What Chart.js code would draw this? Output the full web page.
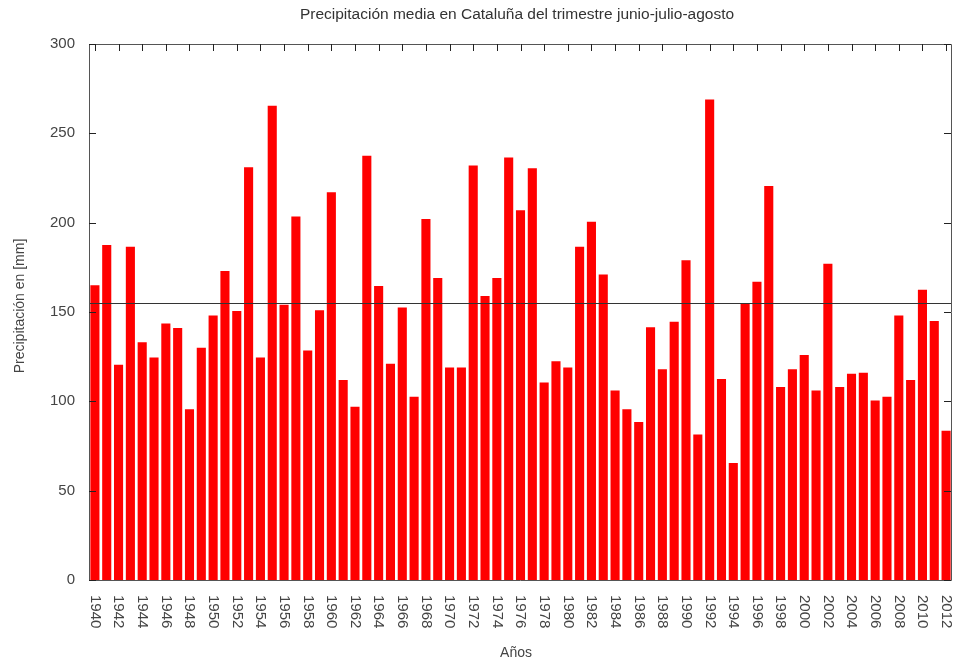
<!DOCTYPE html>
<html>
<head>
<meta charset="utf-8">
<script src="https://cdn.jsdelivr.net/npm/chart.js@4"></script>
<style>
  html, body { margin: 0; padding: 0; background: #fff; }
  #wrap { width: 955px; height: 664px; }
</style>
</head>
<body>
<div id="wrap"><canvas id="c" width="955" height="664"></canvas></div>
<script>
const years = [
  '1940','1941','1942','1943','1944','1945','1946','1947','1948','1949',
  '1950','1951','1952','1953','1954','1955','1956','1957','1958','1959',
  '1960','1961','1962','1963','1964','1965','1966','1967','1968','1969',
  '1970','1971','1972','1973','1974','1975','1976','1977','1978','1979',
  '1980','1981','1982','1983','1984','1985','1986','1987','1988','1989',
  '1990','1991','1992','1993','1994','1995','1996','1997','1998','1999',
  '2000','2001','2002','2003','2004','2005','2006','2007','2008','2009',
  '2010','2011','2012'
];
const precipitation = [
  165, 187.5, 120.5, 186.5, 133, 124.5, 143.5, 141, 95.5, 130,
  148, 173, 150.5, 231, 124.5, 265.5, 154, 203.5, 128.5, 151,
  217, 112, 97, 237.5, 164.5, 121, 152.5, 102.5, 202, 169,
  119, 119, 232, 159, 169, 236.5, 207, 230.5, 110.5, 122.5,
  119, 186.5, 200.5, 171, 106, 95.5, 88.5, 141.5, 118, 144.5,
  179, 81.5, 269, 112.5, 65.5, 155, 167, 220.5, 108, 118,
  126, 106, 177, 108, 115.5, 116, 100.5, 102.5, 148, 112,
  162.5, 145, 83.5
];
const tickLabels = [
  '1940','1942','1944','1946','1948','1950','1952','1954','1956','1958',
  '1960','1962','1964','1966','1968','1970','1972','1974','1976','1978',
  '1980','1982','1984','1986','1988','1990','1992','1994','1996','1998',
  '2000','2002','2004','2006','2008','2010','2012'
];
const yTicks = [0, 50, 100, 150, 200, 250, 300];
const meanValue = 155.3;
const chartTitle = 'Precipitación media en Cataluña del trimestre junio-julio-agosto';
const xTitle = 'Años';
const yTitle = 'Precipitación en [mm]';

const FONT = "'Liberation Sans', Arial, sans-serif";

const framePlugin = {
  id: 'framePlugin',
  afterDatasetsDraw(chart) {
    const ctx = chart.ctx;
    const a = chart.chartArea;
    const xs = chart.scales.x;
    const ys = chart.scales.y;
    ctx.save();
    // mean line
    const my = Math.round(ys.getPixelForValue(meanValue)) + 0.5;
    ctx.strokeStyle = '#333';
    ctx.lineWidth = 1;
    ctx.beginPath();
    ctx.moveTo(a.left, my);
    ctx.lineTo(a.right, my);
    ctx.stroke();
    // frame
    ctx.strokeStyle = '#555';
    ctx.beginPath();
    ctx.rect(Math.round(a.left) + 0.5, Math.round(a.top) + 0.5,
             Math.round(a.right - a.left) - 1, Math.round(a.bottom - a.top));
    ctx.stroke();
    // y ticks inward (left and right)
    ctx.strokeStyle = '#222';
    ctx.beginPath();
    yTicks.forEach(v => {
      const y = Math.round(ys.getPixelForValue(v)) + 0.5;
      ctx.moveTo(a.left, y); ctx.lineTo(a.left + 7, y);
      ctx.moveTo(a.right - 1, y); ctx.lineTo(a.right - 8, y);
    });
    // x ticks inward on top
    tickLabels.forEach(lab => {
      const x = Math.round(xs.getPixelForValue(years.indexOf(lab))) + 0.5;
      ctx.moveTo(x, a.top); ctx.lineTo(x, a.top + 7);
    });
    ctx.stroke();
    // x tick labels rotated clockwise
    ctx.fillStyle = '#444';
    ctx.font = '15px ' + FONT;
    ctx.textAlign = 'left';
    ctx.textBaseline = 'middle';
    tickLabels.forEach(lab => {
      const x = xs.getPixelForValue(years.indexOf(lab));
      ctx.save();
      ctx.translate(x, a.bottom + 15);
      ctx.rotate(Math.PI / 2);
      ctx.fillText(lab, 0, 0);
      ctx.restore();
    });
    // titles
    ctx.textAlign = 'center';
    ctx.textBaseline = 'middle';
    ctx.fillStyle = '#333';
    ctx.font = '15.5px ' + FONT;
    ctx.fillText(chartTitle, 517, 15);
    ctx.fillStyle = '#444';
    ctx.font = '14px ' + FONT;
    ctx.fillText(xTitle, 516, 653);
    ctx.save();
    ctx.translate(20, 306);
    ctx.rotate(-Math.PI / 2);
    ctx.fillText(yTitle, 0, 0);
    ctx.restore();
    ctx.restore();
  }
};

new Chart(document.getElementById('c'), {
  type: 'bar',
  data: {
    labels: years,
    datasets: [{
      data: precipitation,
      backgroundColor: '#ff0000',
      borderWidth: 0,
      barPercentage: 0.77,
      categoryPercentage: 1.0
    }]
  },
  options: {
    responsive: false,
    animation: false,
    devicePixelRatio: 1,
    layout: { padding: { left: 0, right: 3, top: 44, bottom: 0 } },
    plugins: {
      legend: { display: false },
      tooltip: { enabled: false },
      title: { display: false }
    },
    scales: {
      x: {
        offset: true,
        grid: { display: false },
        border: { display: false },
        ticks: { display: false },
        afterFit(scale) { scale.height = 84; }
      },
      y: {
        min: 0,
        max: 300,
        grid: { display: false, drawTicks: false },
        border: { display: false },
        ticks: {
          stepSize: 50,
          color: '#444',
          padding: 14,
          font: { family: FONT, size: 15 }
        },
        afterFit(scale) { scale.width = 89; }
      }
    }
  },
  plugins: [framePlugin]
});
</script>
</body>
</html>
